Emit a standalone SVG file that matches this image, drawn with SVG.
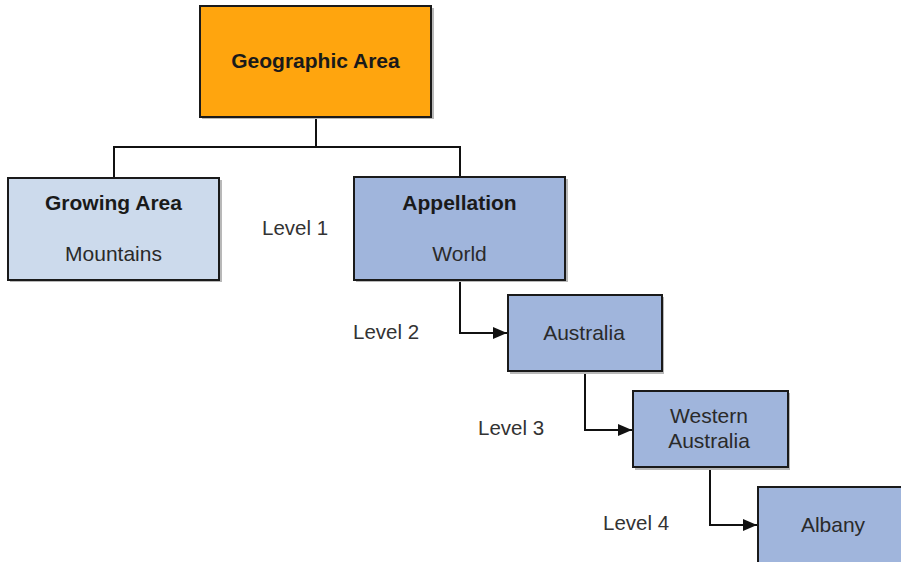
<svg xmlns="http://www.w3.org/2000/svg" width="901" height="562" viewBox="0 0 901 562">
<style>
.box{stroke:#1a1a1a;stroke-width:2}
.sh{fill:#b8b8b8}
.t{font-family:"Liberation Sans",Arial,sans-serif;font-size:21px;fill:#2a2a2a;text-anchor:middle}
.b{font-weight:bold;fill:#1a1a1a}
.lv{font-family:"Liberation Sans",Arial,sans-serif;font-size:20.5px;fill:#333}
.c{fill:none;stroke:#111;stroke-width:2}
</style>
<defs>
<marker id="ah" markerWidth="14" markerHeight="14" refX="14" refY="7" orient="auto" markerUnits="userSpaceOnUse">
<path d="M0,1 L14,7 L0,13 Z" fill="#111"/>
</marker>
</defs>
<rect width="901" height="562" fill="#fff"/>
<g id="connectors">
<path class="c" d="M316,117 V147 M114,147 H460 M114,146 V178 M460,146 V178"/>
<path class="c" d="M460,280 V333 H507" marker-end="url(#ah)"/>
<path class="c" d="M585,371 V430 H632" marker-end="url(#ah)"/>
<path class="c" d="M710,467 V525 H757" marker-end="url(#ah)"/>
</g>
<g id="geographic-area">
<rect class="sh" x="202" y="8" width="232" height="111"/>
<rect class="box" x="200" y="6" width="231" height="111" fill="#FFA50E"/>
<text class="t b" x="315.5" y="68">Geographic Area</text>
</g>
<g id="growing-area">
<rect class="sh" x="10" y="180" width="212" height="102"/>
<rect class="box" x="8" y="178" width="211" height="102" fill="#CCDAEC"/>
<text class="t b" x="113.5" y="210">Growing Area</text>
<text class="t" x="113.5" y="261">Mountains</text>
</g>
<g id="appellation">
<rect class="sh" x="356" y="179" width="212" height="103"/>
<rect class="box" x="354" y="177" width="211" height="103" fill="#A0B5DC"/>
<text class="t b" x="459.5" y="210">Appellation</text>
<text class="t" x="459.5" y="261">World</text>
</g>
<g id="australia">
<rect class="sh" x="510" y="297" width="154" height="77"/>
<rect class="box" x="508" y="295" width="154" height="76" fill="#A0B5DC"/>
<text class="t" x="584" y="340">Australia</text>
</g>
<g id="western-australia">
<rect class="sh" x="635" y="393" width="155" height="77"/>
<rect class="box" x="633" y="391" width="155" height="76" fill="#A0B5DC"/>
<text class="t" x="709" y="423">Western</text>
<text class="t" x="709" y="448">Australia</text>
</g>
<g id="albany">
<rect class="box" x="758" y="487" width="160" height="90" fill="#A0B5DC"/>
<text class="t" x="833" y="532">Albany</text>
</g>
<g id="levels">
<text class="lv" x="262" y="235">Level 1</text>
<text class="lv" x="353" y="339">Level 2</text>
<text class="lv" x="478" y="435">Level 3</text>
<text class="lv" x="603" y="530">Level 4</text>
</g>
</svg>
